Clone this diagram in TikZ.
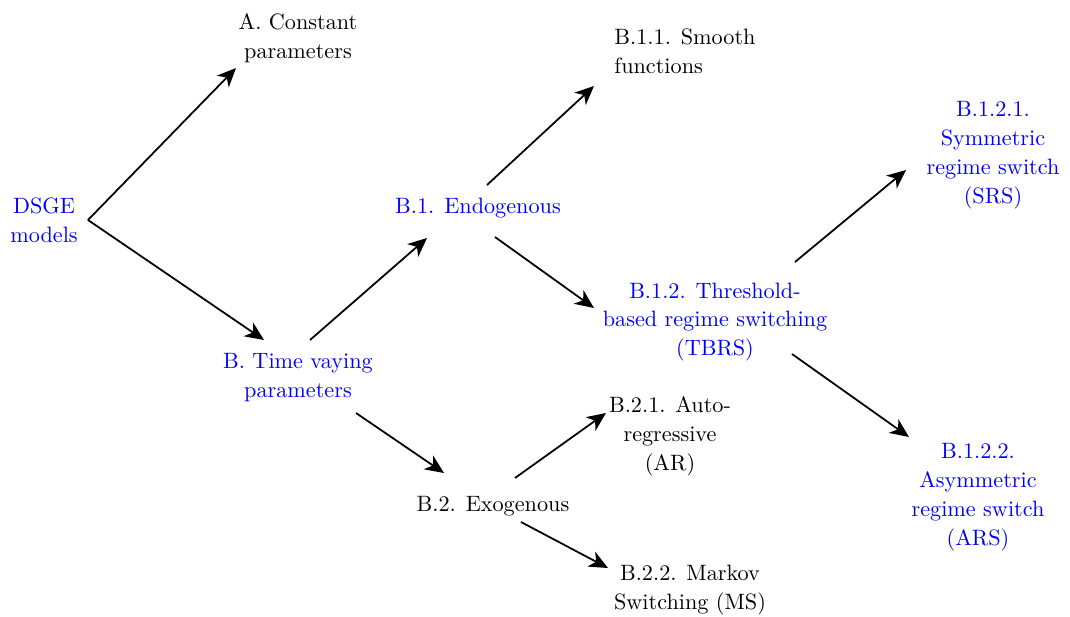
\documentclass[tikz,border=0pt]{standalone}
\usepackage{amsmath}
\usetikzlibrary{arrows.meta,calc}
\tikzset{mn/.append style={align=center,inner sep=0pt,font=\fontsize{10}{13}\selectfont},
         bl/.append style={mn,text=blue},
         arr/.style={thick,-{Stealth[length=8.5pt,width=7.5pt,inset=2.5pt]}}}

\begin{document}
\begin{tikzpicture}[x=0.45pt,y=-0.45pt]
                \useasboundingbox (0,0) rectangle (1070,617);
                % \SetUpNodes
                \node[bl] (dsge) at (44,220) {DSGE\\models};
                \node[mn] (consta) at (298,38) {A. Constant\\parameters};
                \node[bl] (tvp) at (298,378) {B. Time vaying\\parameters};
                \node[bl] (endo) at (478,208) {B.1. Endogenous};
                \node[mn] (exo) at (493,506) {B.2. Exogenous};
                \node[mn,align=left] (smooth) at (685,51) {B.1.1. Smooth\\functions};
                \node[bl] (tbrs) at (715,322) {B.1.2. Threshold-\\based regime switching\\(TBRS)};
                \node[mn] (ar) at (670,436) {B.2.1. Auto-\\regressive\\(AR)};
                \node[mn] (ms) at (690,590) {B.2.2. Markov\\Switching (MS)};
                \node[bl] (srs) at (993,155) {B.1.2.1.\\Symmetric\\regime switch\\(SRS)};
                \node[bl] (ars) at (978,497) {B.1.2.2.\\Asymmetric\\regime switch\\(ARS)};
                % \SetUpArrows
                \path ($(dsge)+(44,0)$) edge[arr] ($(consta)+(-62,30)$);
                \path ($(dsge)+(44,0)$) edge[arr] ($(tvp)+(-34,-38)$);
                \path ($(tvp)+(12,-38)$) edge[arr] ($(endo)+(-51,30)$);
                \path ($(tvp)+(58,35)$) edge[arr] ($(exo)+(-49,-33)$);
                \path ($(endo)+(9,-23)$) edge[arr] ($(smooth)+(-91,35)$);
                \path ($(endo)+(17,29)$) edge[arr] ($(tbrs)+(-121,-14)$);
                \path ($(exo)+(22,-28)$) edge[arr] ($(ar)+(-64,-23)$);
                \path ($(exo)+(28,16)$) edge[arr] ($(ms)+(-82,-22)$);
                \path ($(tbrs)+(80,-60)$) edge[arr] ($(srs)+(-87,15)$);
                \path ($(tbrs)+(77,32)$) edge[arr] ($(ars)+(-69,-60)$);
            \end{tikzpicture}
\end{document}
